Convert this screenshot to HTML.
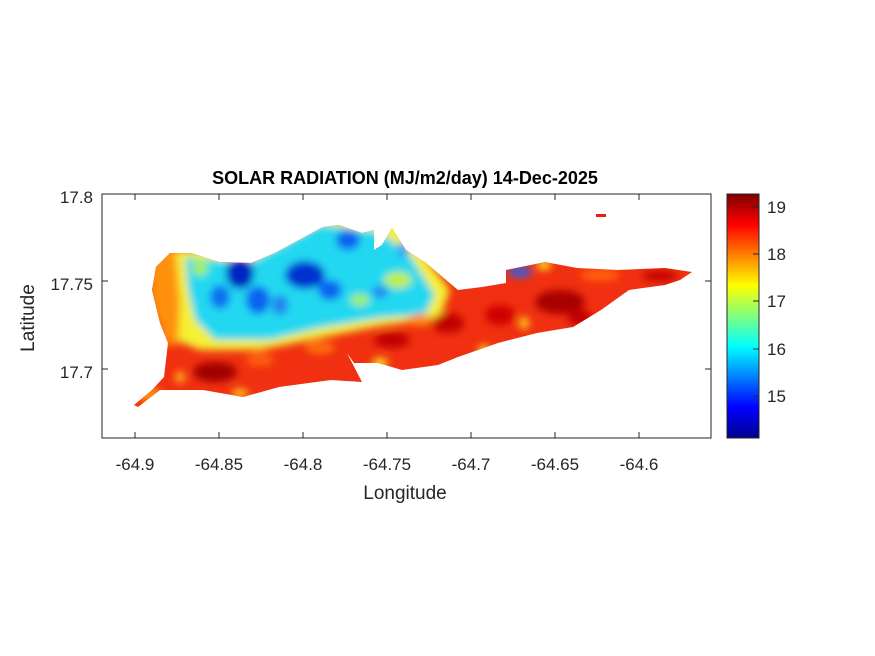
<!DOCTYPE html>
<html><head><style>
body{margin:0;background:#fff;}
svg{display:block;font-family:"Liberation Sans",sans-serif;}
</style></head><body>
<svg width="875" height="656" viewBox="0 0 875 656">
<defs>
<clipPath id="isl"><path d="M134,405 L152,390 L164,377 L168,343 L160,323 L152,290 L156,267 L170,253 L191,253 L219,262 L251,263 L275,253 L299,240 L323,227 L339,225 L362,233 L374,230 L374,250 L382,245 L392,228 L406,250 L426,263 L458,290 L482,287 L506,283 L506,270 L545,262 L577,268 L617,270 L665,268 L692,272 L680,280 L665,285 L629,290 L601,310 L573,327 L537,333 L498,343 L458,357 L438,365 L402,370 L378,363 L354,363 L347,353 L362,382 L331,380 L279,387 L243,397 L203,390 L160,390 L138,407 Z"/></clipPath>
<filter id="bl" x="-10%" y="-10%" width="120%" height="120%"><feGaussianBlur stdDeviation="4"/></filter>
<linearGradient id="jet" x1="0" y1="1" x2="0" y2="0">
<stop offset="0" stop-color="#00008f"/><stop offset="0.125" stop-color="#0000ff"/><stop offset="0.375" stop-color="#00ffff"/><stop offset="0.625" stop-color="#ffff00"/><stop offset="0.875" stop-color="#ff0000"/><stop offset="1" stop-color="#800000"/>
</linearGradient>
</defs>
<rect x="102" y="194" width="609" height="244" fill="#fff" stroke="#262626" stroke-width="1"/>
<g clip-path="url(#isl)">
<rect x="100" y="200" width="620" height="220" fill="#f03010"/>
<g filter="url(#bl)">
<path d="M150,250 L200,250 L320,218 L400,222 L450,290 L440,318 L380,326 L320,338 L260,350 L200,350 L175,340 L165,300 Z" fill="#f4f030"/>
<path d="M150,255 L175,250 L180,300 L178,345 L165,345 L150,300 Z" fill="#ff9010"/>
<path d="M185,258 L250,262 L320,224 L380,232 L410,255 L435,295 L425,315 L380,318 L320,328 L270,340 L215,340 L195,320 L188,290 Z" fill="#20d8f0"/>
<ellipse cx="240" cy="273" rx="14" ry="16" fill="#0020c0"/>
<ellipse cx="305" cy="275" rx="20" ry="14" fill="#0030d0"/>
<ellipse cx="330" cy="290" rx="12" ry="10" fill="#1060f0"/>
<ellipse cx="220" cy="297" rx="10" ry="12" fill="#1070f0"/>
<ellipse cx="258" cy="300" rx="12" ry="14" fill="#1060f0"/>
<ellipse cx="280" cy="305" rx="8" ry="10" fill="#2080f0"/>
<ellipse cx="348" cy="240" rx="12" ry="10" fill="#1060f0"/>
<ellipse cx="380" cy="292" rx="8" ry="6" fill="#2080f0"/>
<ellipse cx="403" cy="250" rx="6" ry="8" fill="#30a0f0"/>
<ellipse cx="398" cy="280" rx="14" ry="8" fill="#c0f040"/>
<ellipse cx="360" cy="300" rx="10" ry="6" fill="#a0f060"/>
<ellipse cx="200" cy="268" rx="8" ry="8" fill="#a0f060"/>
<ellipse cx="520" cy="272" rx="12" ry="5" fill="#2060f0"/>
<ellipse cx="544" cy="265" rx="7" ry="5" fill="#ffe020"/>
<ellipse cx="215" cy="372" rx="22" ry="10" fill="#a00000"/>
<ellipse cx="560" cy="302" rx="25" ry="12" fill="#a80000"/>
<ellipse cx="580" cy="318" rx="12" ry="8" fill="#c00000"/>
<ellipse cx="448" cy="323" rx="16" ry="10" fill="#c00000"/>
<ellipse cx="392" cy="340" rx="18" ry="8" fill="#c00000"/>
<ellipse cx="500" cy="315" rx="15" ry="10" fill="#d00000"/>
<ellipse cx="660" cy="276" rx="18" ry="5" fill="#c00000"/>
<ellipse cx="600" cy="275" rx="20" ry="6" fill="#ff6010"/>
<ellipse cx="524" cy="323" rx="5" ry="6" fill="#ffd020"/>
<ellipse cx="484" cy="350" rx="6" ry="5" fill="#ffd020"/>
<ellipse cx="380" cy="363" rx="8" ry="5" fill="#ffe020"/>
<ellipse cx="240" cy="393" rx="8" ry="4" fill="#ffd020"/>
<ellipse cx="180" cy="377" rx="5" ry="6" fill="#ffb020"/>
<ellipse cx="150" cy="395" rx="12" ry="8" fill="#ff9010"/>
<ellipse cx="320" cy="348" rx="15" ry="6" fill="#ff7010"/>
<ellipse cx="260" cy="360" rx="14" ry="6" fill="#ff6010"/>
<ellipse cx="420" cy="320" rx="12" ry="6" fill="#ff9010"/>
</g>
</g>
<rect x="596" y="214" width="10" height="3" fill="#e02010"/>
<g stroke="#262626" stroke-width="1">
<line x1="135" y1="438" x2="135" y2="432"/><line x1="219" y1="438" x2="219" y2="432"/><line x1="303" y1="438" x2="303" y2="432"/><line x1="387" y1="438" x2="387" y2="432"/><line x1="471" y1="438" x2="471" y2="432"/><line x1="555" y1="438" x2="555" y2="432"/><line x1="639" y1="438" x2="639" y2="432"/>
<line x1="135" y1="194" x2="135" y2="200"/><line x1="219" y1="194" x2="219" y2="200"/><line x1="303" y1="194" x2="303" y2="200"/><line x1="387" y1="194" x2="387" y2="200"/><line x1="471" y1="194" x2="471" y2="200"/><line x1="555" y1="194" x2="555" y2="200"/><line x1="639" y1="194" x2="639" y2="200"/>
<line x1="102" y1="281" x2="108" y2="281"/><line x1="102" y1="369" x2="108" y2="369"/>
<line x1="711" y1="281" x2="705" y2="281"/><line x1="711" y1="369" x2="705" y2="369"/>
</g>
<g font-size="17" fill="#262626" text-anchor="middle">
<text x="135" y="470">-64.9</text><text x="219" y="470">-64.85</text><text x="303" y="470">-64.8</text><text x="387" y="470">-64.75</text><text x="471" y="470">-64.7</text><text x="555" y="470">-64.65</text><text x="639" y="470">-64.6</text>
</g>
<g font-size="17" fill="#262626" text-anchor="end">
<text x="93" y="203">17.8</text><text x="93" y="290">17.75</text><text x="93" y="378">17.7</text>
</g>
<text x="405" y="499" font-size="19" fill="#262626" text-anchor="middle">Longitude</text>
<text transform="translate(34,318) rotate(-90)" font-size="19" fill="#262626" text-anchor="middle">Latitude</text>
<text x="405" y="184" font-size="18" font-weight="bold" fill="#000" text-anchor="middle">SOLAR RADIATION (MJ/m2/day) 14-Dec-2025</text>
<rect x="727" y="194" width="32" height="244" fill="url(#jet)" stroke="#262626" stroke-width="1"/>
<g stroke="#262626"><line x1="753" y1="396" x2="759" y2="396"/><line x1="753" y1="349" x2="759" y2="349"/><line x1="753" y1="301" x2="759" y2="301"/><line x1="753" y1="254" x2="759" y2="254"/><line x1="753" y1="207" x2="759" y2="207"/></g>
<g font-size="17" fill="#262626">
<text x="767" y="402">15</text><text x="767" y="355">16</text><text x="767" y="307">17</text><text x="767" y="260">18</text><text x="767" y="213">19</text>
</g>
</svg>
</body></html>
